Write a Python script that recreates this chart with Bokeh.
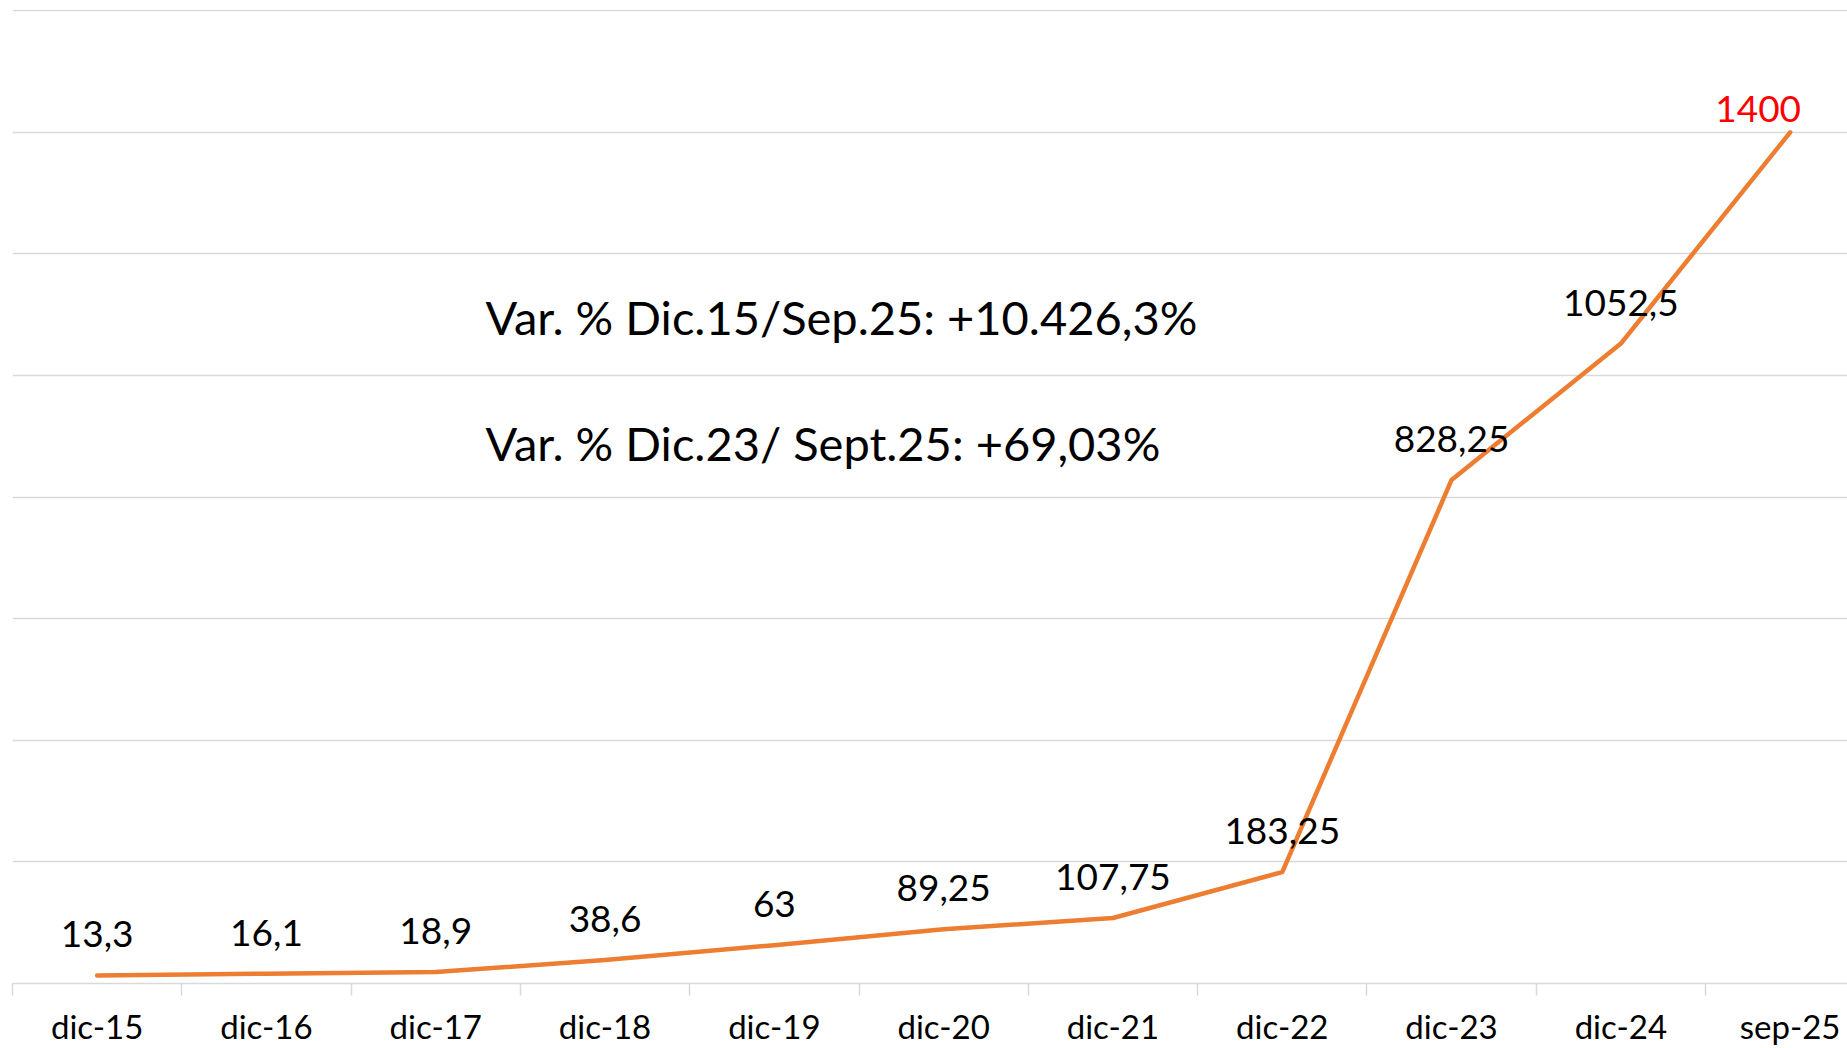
from bokeh.plotting import figure
from bokeh.models import ColumnDataSource, FixedTicker, SingleIntervalTicker, Range1d, Label
from bokeh.core.properties import value
from bokeh.embed import file_html
from bokeh.resources import INLINE

# ---- data ----
categories = ["dic-15", "dic-16", "dic-17", "dic-18", "dic-19", "dic-20",
              "dic-21", "dic-22", "dic-23", "dic-24", "sep-25"]
values = [13.3, 16.1, 18.9, 38.6, 63, 89.25, 107.75, 183.25, 828.25, 1052.5, 1400]
annotation_lines = ["Var. % Dic.15/Sep.25: +10.426,3%",
                    "Var. % Dic.23/ Sept.25: +69,03%"]

FONT = "Lato"
xs = list(range(len(categories)))
labels = ["{:g}".format(v).replace(".", ",") for v in values]

src_line = ColumnDataSource(dict(x=xs, y=values))
src_lab = ColumnDataSource(dict(x=xs[:-1], y=values[:-1], t=labels[:-1]))
src_last = ColumnDataSource(dict(x=xs[-1:], y=values[-1:], t=labels[-1:]))

W, H = 1847, 1048
left, top, bottom = 12, 9, 65
frame_w = W - left
step = 169.3
x_end = -0.5 + frame_w / step

p = figure(width=W, height=H, output_backend="svg", toolbar_location=None,
           x_range=Range1d(-0.5, x_end), y_range=Range1d(0, 1602),
           y_axis_location=None, min_border_left=left, min_border_right=0,
           min_border_top=top, min_border_bottom=bottom)
p.outline_line_color = None
p.background_fill_color = "white"
p.border_fill_color = "white"

# grid
p.xgrid.visible = False
p.ygrid.ticker = SingleIntervalTicker(interval=200)
p.ygrid.grid_line_color = "#D9D9D9"
p.ygrid.grid_line_width = 1.5

# x axis
ax = p.xaxis[0]
ax.ticker = FixedTicker(ticks=xs, minor_ticks=[i - 0.5 for i in range(len(categories) + 1)])
ax.major_label_overrides = {i: c for i, c in enumerate(categories)}
ax.axis_line_color = "#D9D9D9"
ax.axis_line_width = 1.5
ax.major_tick_line_color = None
ax.major_tick_out = 0
ax.major_tick_in = 0
ax.minor_tick_line_color = "#D9D9D9"
ax.minor_tick_line_width = 1.5
ax.minor_tick_out = 12
ax.minor_tick_in = 0
ax.major_label_standoff = 10
ax.major_label_text_font = FONT
ax.major_label_text_font_size = "33px"
ax.major_label_text_color = "black"

# line
p.line("x", "y", source=src_line, line_color="#ED7D31", line_width=4.5,
       line_cap="round", line_join="round")

# data labels
p.text("x", "y", text="t", source=src_lab, text_font=value(FONT),
       text_font_size="37px", text_color="black", text_align="center",
       text_baseline="alphabetic", y_offset=-41)
p.text("x", "y", text="t", source=src_last, text_font=value(FONT),
       text_font_size="37px", text_color="#FF0000", text_align="center",
       text_baseline="alphabetic", x_offset=-32, y_offset=-23)

# annotation texts
for txt, yv in zip(annotation_lines, [1097, 889]):
    p.add_layout(Label(x=2.294, y=yv, text=txt, text_font=FONT,
                       text_font_size="47px", text_color="black",
                       text_baseline="alphabetic", text_align="left"))

open("out.html", "w").write(file_html(p, INLINE))
